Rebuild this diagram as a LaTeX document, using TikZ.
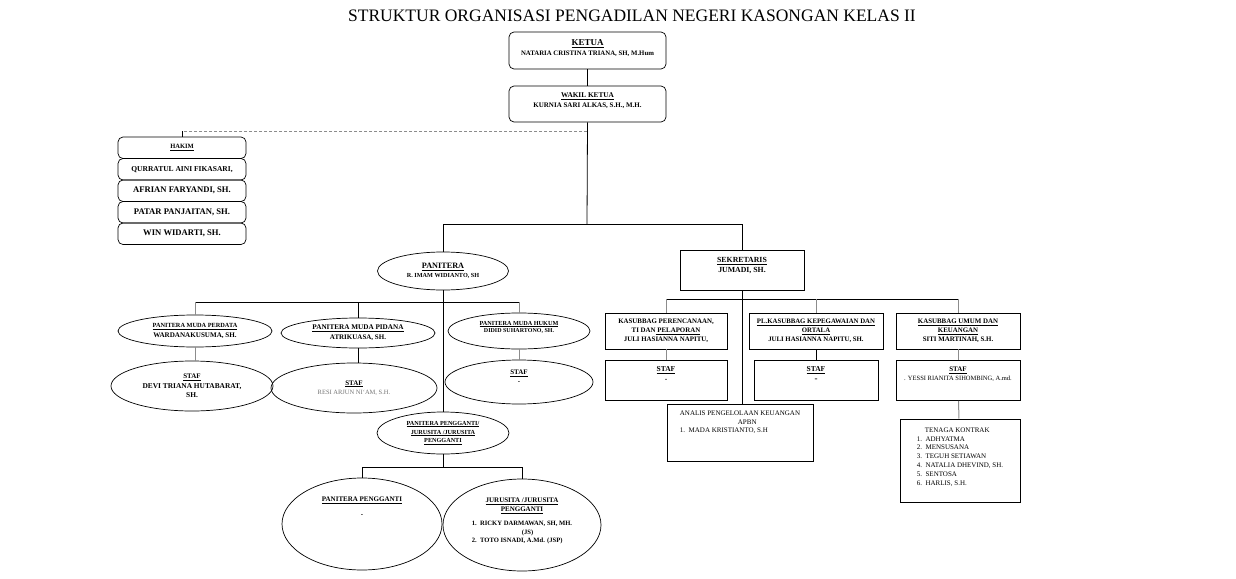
\documentclass[tikz,border=0pt]{standalone}
\usepackage{fontspec}
\setmainfont{Liberation Serif}
\usetikzlibrary{shapes.geometric}
\newcommand{\fz}[2]{\fontsize{#1}{#2}\selectfont}
\begin{document}
\begin{tikzpicture}[x=1pt,y=-1pt,
    rbox/.style={draw,rounded corners=5pt,line width=0.7pt,inner sep=1pt,align=center},
    sbox/.style={draw,line width=0.9pt,inner sep=1pt,align=center},
    oval/.style={draw,ellipse,line width=0.7pt,inner sep=0pt,align=center},
    link/.style={line width=0.8pt},
    glink/.style={line width=1pt,black!45},
    dlink/.style={line width=0.8pt,black!45,dash pattern=on 3pt off 2pt}]
\useasboundingbox (0,0) rectangle (1236,578);
\node (title) at (632,16) {\fz{17.5}{20}STRUKTUR ORGANISASI PENGADILAN NEGERI KASONGAN KELAS II};
\node[rbox,minimum width=157,minimum height=37,font=\bfseries\fz{6.8}{10}] (ketua) at (587.5,50.5)
    {\fz{9}{10}\underline{KETUA}\\ NATARIA CRISTINA TRIANA, SH, M.Hum\\[-4pt]\mbox{}};
\node[rbox,minimum width=157,minimum height=36,font=\bfseries\fz{7}{10}] (wakil) at (587.5,104)
    {\fz{7.3}{8.5}\underline{WAKIL KETUA}\\ KURNIA SARI ALKAS, S.H., M.H.\\[-3pt]\mbox{}};
\node[rbox,minimum width=128,minimum height=21.5,font=\bfseries\fz{6.5}{7}] (hakim) at (182,147.75) {\underline{HAKIM}};
\node[rbox,minimum width=128,minimum height=21.5,font=\bfseries\fz{7.5}{8}] (hakim1) at (182,169.25) {QURRATUL AINI FIKASARI,};
\node[rbox,minimum width=128,minimum height=21.5,font=\bfseries\fz{8.6}{9}] (hakim2) at (182,190.75) {AFRIAN FARYANDI, SH.};
\node[rbox,minimum width=128,minimum height=21.5,font=\bfseries\fz{8.6}{9}] (hakim3) at (182,212.25) {PATAR PANJAITAN, SH.};
\node[rbox,minimum width=128,minimum height=21.5,font=\bfseries\fz{8.6}{9}] (hakim4) at (182,233.75) {WIN WIDARTI, SH.};
\coordinate (jhakim) at (587,131);
\coordinate (jbar) at (587,224);
\draw[link] (ketua) -- (wakil);
\draw[link] (wakil.south) -- (jbar);
\draw[dlink] (jhakim) -- (jhakim -| hakim.north);
\draw[link] (jhakim -| hakim.north) -- (hakim.north);
\node[oval,minimum width=131,minimum height=38,font=\bfseries\fz{6.2}{9.5}] (panitera) at (443,271)
    {\fz{8.2}{9}\underline{PANITERA}\\ R. IMAM WIDIANTO, SH};
\node[sbox,minimum width=124,minimum height=40,font=\bfseries\fz{7.8}{10}] (sekretaris) at (742,270)
    {\underline{SEKRETARIS}\\ JUMADI, SH.\\[0pt]\mbox{}};
\draw[link] (jbar) -- (jbar -| panitera.north) -- (panitera.north);
\draw[link] (jbar) -- (jbar -| sekretaris.north) -- (sekretaris.north);
\node[oval,minimum width=154,minimum height=32,font=\bfseries\fz{7.1}{9.5}] (pmperdata) at (195,331)
    {\fz{6.3}{7.5}\underline{PANITERA MUDA PERDATA}\\ WARDANAKUSUMA, SH.};
\node[oval,minimum width=154,minimum height=30,font=\bfseries\fz{7}{10}] (pmpidana) at (358,333)
    {\fz{7.2}{8.5}\underline{PANITERA MUDA PIDANA}\\ ATRIKUASA, SH.};
\node[oval,minimum width=142,minimum height=36,font=\bfseries\fz{6}{7.4}] (pmhukum) at (519,331)
    {\fz{6.2}{6.5}\underline{PANITERA MUDA HUKUM}\\ DIDID SUHARTONO, SH.\\[1pt]\mbox{}};
\node[oval,minimum width=162,minimum height=50,font=\bfseries\fz{7.4}{9.5}] (stafperdata) at (192,386)
    {\fz{7}{8}\underline{STAF}\\ DEVI TRIANA HUTABARAT,\\ SH.};
\node[oval,minimum width=166,minimum height=50,font=\fz{6.5}{9.5}] (stafpidana) at (354,388)
    {\bfseries\fz{7}{8}\underline{STAF}\\ \color{black!55}RESI ARJUN NI`AM, S.H.};
\node[oval,minimum width=148,minimum height=44,font=\bfseries\fz{7}{9.5}] (stafhukum) at (519,382)
    {\underline{STAF}\\ -\\[1pt]\mbox{}};
\coordinate (jpan) at (443,302);
\draw[link] (panitera.south) -- (jpan);
\draw[link] (jpan) -- (jpan -| pmperdata.north);
\draw[link] (jpan) -- (jpan -| pmhukum.north);
\draw[glink] (jpan -| pmperdata.north) -- (pmperdata.north);
\draw[link] (jpan -| pmpidana.north) -- (pmpidana.north);
\draw[glink] (jpan -| pmhukum.north) -- (pmhukum.north);
\draw[glink] (pmperdata.south) -- (pmperdata.south |- stafperdata.north);
\draw[link] (pmpidana.south) -- (pmpidana.south |- stafpidana.north);
\draw[glink] (pmhukum.south) -- (stafhukum.north);
\node[oval,minimum width=132,minimum height=42,font=\bfseries\fz{6.2}{8.8}] (pp) at (443,433)
    {\underline{PANITERA PENGGANTI/}\\ \underline{JURUSITA /JURUSITA}\\ \underline{PENGGANTI}};
\draw[link] (jpan) -- (pp.north);
\node[oval,minimum width=160,minimum height=92,font=\bfseries\fz{7}{9}] (ppeng) at (362,524)
    {\underline{PANITERA PENGGANTI}\\[6pt] -\\[26pt]\mbox{}};
\node[oval,minimum width=158,minimum height=92,font=\bfseries\fz{7}{9}] (jurusita) at (522,525)
    {\underline{JURUSITA /JURUSITA}\\ \underline{PENGGANTI}\\[5pt]
     \fz{6.6}{8.5}\begin{tabular}{@{}l@{}}1.\ \ RICKY DARMAWAN, SH, MH.\\ \hspace*{50pt}(JS)\\ 2.\ \ TOTO ISNADI, A.Md. (JSP)\end{tabular}\\[6pt]\mbox{}};
\coordinate (jpp) at (443,467);
\draw[link] (pp.south) -- (jpp);
\draw[link] (jpp) -- (jpp -| ppeng.north) -- (ppeng.north);
\draw[link] (jpp) -- (jpp -| jurusita.north) -- (jurusita.north);
\node[sbox,minimum width=122,minimum height=36,font=\bfseries\fz{6.9}{9.2}] (kasub1) at (666,331)
    {KASUBBAG PERENCANAAN,\\ TI DAN\underline{ PELAPORAN}\\ JULI HASIANNA NAPITU,};
\node[sbox,minimum width=134,minimum height=36,font=\bfseries\fz{6.8}{9.2}] (kasub2) at (816,331)
    {\underline{PL.KASUBBAG KEPEGAWAIAN DAN}\\ \underline{ORTALA}\\ JULI HASIANNA NAPITU, SH.};
\node[sbox,minimum width=124,minimum height=36,font=\bfseries\fz{6.9}{9.2}] (kasub3) at (958,331)
    {\underline{KASUBBAG UMUM DAN}\\ \underline{KEUANGAN}\\ SITI MARTINAH, S.H.};
\node[sbox,minimum width=122,minimum height=40,font=\bfseries\fz{7.5}{10}] (staf1) at (666,380.5)
    {\underline{STAF}\\ -\\[3pt]\mbox{}};
\node[sbox,minimum width=124,minimum height=40,font=\bfseries\fz{7.5}{10}] (staf2) at (816,380.5)
    {\underline{STAF}\\ \fz{9}{10}-\\[2pt]\mbox{}};
\node[sbox,minimum width=124,minimum height=40,font=\fz{6.5}{9.5}] (staf3) at (958,380.5)
    {\bfseries\fz{7}{8.5}\underline{STAF}\\ . YESSI RIANITA SIHOMBING, A.md.\\[4pt]\mbox{}};
\node[sbox,minimum width=146,minimum height=57,font=\fz{7}{8.6}] (analis) at (740,433)
    {\begin{tabular}{@{}l@{}}ANALIS PENGELOLAAN KEUANGAN\\ \hspace*{58pt}APBN\\ 1.\ \ MADA KRISTIANTO, S.H\end{tabular}\\[20pt]\mbox{}};
\node[sbox,minimum width=120,minimum height=83,font=\fz{7}{8.8}] (tenaga) at (960,460.5)
    {\begin{tabular}{@{}l@{}}\hspace*{8pt}TENAGA KONTRAK\\ 1.\ \ ADHYATMA\\ 2.\ \ MENSUSANA\\ 3.\ \ TEGUH SETIAWAN\\
     4.\ \ NATALIA DHEVIND, SH.\\ 5.\ \ SENTOSA\\ 6.\ \ HARLIS, S.H.\end{tabular}\\[6pt]\mbox{}};
\coordinate (jsek) at (742,299);
\draw[link] (sekretaris.south) -- (analis.north -| sekretaris.south);
\draw[link] (jsek -| kasub1.north) -- (jsek -| kasub3.north);
\draw[glink] (jsek -| kasub1.north) -- (kasub1.north);
\draw[glink] (jsek -| kasub2.north) -- (kasub2.north);
\draw[glink] (jsek -| kasub3.north) -- (kasub3.north);
\draw[glink] (kasub1) -- (staf1);
\draw[link] (kasub2) -- (staf2);
\draw[glink] (kasub3) -- (staf3);
\draw[glink] (staf3) -- (tenaga);
\end{tikzpicture}
\end{document}
